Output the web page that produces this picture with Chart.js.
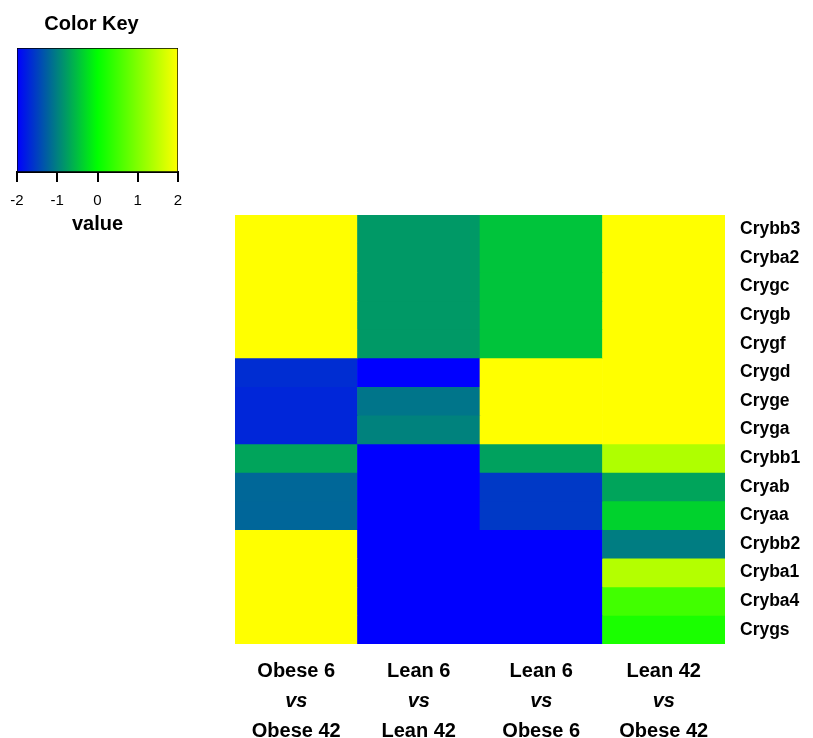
<!DOCTYPE html>
<html>
<head>
<meta charset="utf-8">
<script src="https://cdn.jsdelivr.net/npm/chart.js@4.4.1/dist/chart.umd.min.js"></script>
<style>
  html, body { margin: 0; padding: 0; background: #fff; }
  #wrap { position: relative; width: 813px; height: 738px; }
  #heat { position: absolute; left: 0; top: 0; }
  #key { position: absolute; left: 0; top: 0; }
</style>
</head>
<body>
<div id="wrap">
  <canvas id="heat" width="813" height="738"></canvas>
  <canvas id="key" width="200" height="240"></canvas>
</div>
<script>
// Genes (rows, top to bottom)
const genes = ['Crybb3', 'Cryba2', 'Crygc', 'Crygb', 'Crygf', 'Crygd', 'Cryge', 'Cryga',
               'Crybb1', 'Cryab', 'Cryaa', 'Crybb2', 'Cryba1', 'Cryba4', 'Crygs'];

// Comparisons (columns): first group, "vs", second group
const groupA = ['Obese 6', 'Lean 6', 'Lean 6', 'Lean 42'];
const groupB = ['Obese 42', 'Lean 42', 'Obese 6', 'Obese 42'];

// Scaled expression values per comparison, one per gene (clipped to -2..2)
const obese6VsObese42 = [2, 2, 2, 2, 2, -1.65, -1.7, -1.7, -0.71, -1.19, -1.2, 2, 2, 2, 2];
const lean6VsLean42   = [-0.8, -0.8, -0.8, -0.8, -0.8, -2, -1.08, -0.98, -2, -2, -2, -2, -2, -2, -2];
const lean6VsObese6   = [-0.46, -0.46, -0.46, -0.46, -0.46, 2, 2, 2, -0.74, -1.55, -1.55, -2, -2, -2, -2];
const lean42VsObese42 = [2, 2, 2, 2, 2, 2, 2, 2, 1.37, -0.71, -0.35, -1.02, 1.41, 0.51, 0.2];

const columns = [obese6VsObese42, lean6VsLean42, lean6VsObese6, lean42VsObese42];

// Colour key ticks
const keyTicks = [-2, -1, 0, 1, 2];

const FONT = "'Liberation Sans', Arial, Helvetica, sans-serif";
Chart.defaults.font.family = FONT;
Chart.defaults.color = '#000';

// blue -> green -> yellow ramp over -2..2
function rampColor(v) {
  const x = Math.max(-2, Math.min(2, v));
  let r, g, b;
  if (x <= 0) {
    const t = (x + 2) / 2;
    r = 0; g = 255 * t; b = 255 * (1 - t);
  } else {
    const t = x / 2;
    r = 255 * t; g = 255; b = 0;
  }
  return `rgb(${Math.round(r)},${Math.round(g)},${Math.round(b)})`;
}

// One floating-bar dataset per gene row; each spans one unit on the row axis
const nRows = genes.length;
const datasets = genes.map((gene, r) => ({
  label: gene,
  data: columns.map(() => [nRows - 1 - r, nRows - r]),
  backgroundColor: columns.map(col => rampColor(col[r])),
  borderWidth: 0,
  categoryPercentage: 1,
  barPercentage: 1,
  grouped: false
}));

// Multi-line comparison labels under each column
const columnLabels = {
  id: 'columnLabels',
  afterDraw(chart) {
    const { ctx, scales: { x } } = chart;
    ctx.save();
    ctx.fillStyle = '#000';
    ctx.textAlign = 'center';
    ctx.textBaseline = 'middle';
    groupA.forEach((a, i) => {
      const px = x.getPixelForValue(i);
      ctx.font = `bold 20px ${FONT}`;
      ctx.fillText(a, px, 671);
      ctx.font = `italic bold 20px ${FONT}`;
      ctx.fillText('vs', px, 701);
      ctx.font = `bold 20px ${FONT}`;
      ctx.fillText(groupB[i], px, 731);
    });
    ctx.restore();
  }
};

new Chart(document.getElementById('heat'), {
  type: 'bar',
  data: { labels: groupA.map((a, i) => a + ' vs ' + groupB[i]), datasets },
  options: {
    responsive: false,
    animation: false,
    events: [],
    layout: { padding: { left: 235, top: 215, right: 0, bottom: 0 } },
    plugins: { legend: { display: false }, tooltip: { enabled: false } },
    scales: {
      x: {
        type: 'category',
        ticks: { display: false },
        grid: { display: false },
        border: { display: false },
        afterFit(s) { s.height = 94; }
      },
      y: {
        type: 'linear',
        position: 'right',
        min: 0,
        max: nRows,
        afterBuildTicks(s) {
          s.ticks = genes.map((g, i) => ({ value: nRows - 0.5 - i }));
        },
        ticks: {
          autoSkip: false,
          padding: 15,
          font: { size: 17.5, weight: 'bold' },
          color: '#000',
          callback: (v) => genes[Math.round(nRows - 0.5 - v)]
        },
        grid: { display: false, drawTicks: false },
        border: { display: false },
        afterFit(s) { s.width = 88; }
      }
    }
  },
  plugins: [columnLabels]
});

// Colour key: a single floating bar across -2..2 filled with the ramp
new Chart(document.getElementById('key'), {
  type: 'bar',
  data: {
    labels: [''],
    datasets: [{
      data: [[keyTicks[0], keyTicks[keyTicks.length - 1]]],
      backgroundColor(ctx) {
        const chart = ctx.chart;
        const xs = chart.scales.x;
        if (!chart.chartArea || !xs) return rampColor(0);
        const lo = keyTicks[0], hi = keyTicks[keyTicks.length - 1];
        const g = chart.ctx.createLinearGradient(xs.getPixelForValue(lo), 0, xs.getPixelForValue(hi), 0);
        const steps = 16;
        for (let k = 0; k <= steps; k++) {
          const v = lo + (hi - lo) * k / steps;
          g.addColorStop(k / steps, rampColor(v));
        }
        return g;
      },
      borderColor: '#000',
      borderWidth: 1,
      borderSkipped: false,
      categoryPercentage: 1,
      barPercentage: 1
    }]
  },
  options: {
    indexAxis: 'y',
    responsive: false,
    animation: false,
    events: [],
    layout: { padding: { left: 5, right: 22, top: 0, bottom: 0 } },
    plugins: {
      legend: { display: false },
      tooltip: { enabled: false },
      title: {
        display: true,
        text: 'Color Key',
        color: '#000',
        font: { size: 20, weight: 'bold' },
        padding: { top: 12.5, bottom: 11.5 }
      }
    },
    scales: {
      x: {
        type: 'linear',
        min: keyTicks[0],
        max: keyTicks[keyTicks.length - 1],
        afterBuildTicks(s) { s.ticks = keyTicks.map(v => ({ value: v })); },
        ticks: { font: { size: 15 }, color: '#000', padding: 10, autoSkip: false },
        grid: { drawOnChartArea: false, drawTicks: true, tickLength: 10, color: '#000', lineWidth: 2 },
        border: { display: true, color: '#000', width: 2 },
        title: {
          display: true,
          text: 'value',
          color: '#000',
          font: { size: 20, weight: 'bold' },
          padding: { top: 0, bottom: 4 }
        },
        afterFit(s) { s.height = 68; }
      },
      y: {
        ticks: { display: false },
        grid: { display: false },
        border: { display: false },
        afterFit(s) { s.width = 12; }
      }
    }
  }
});
</script>
</body>
</html>
